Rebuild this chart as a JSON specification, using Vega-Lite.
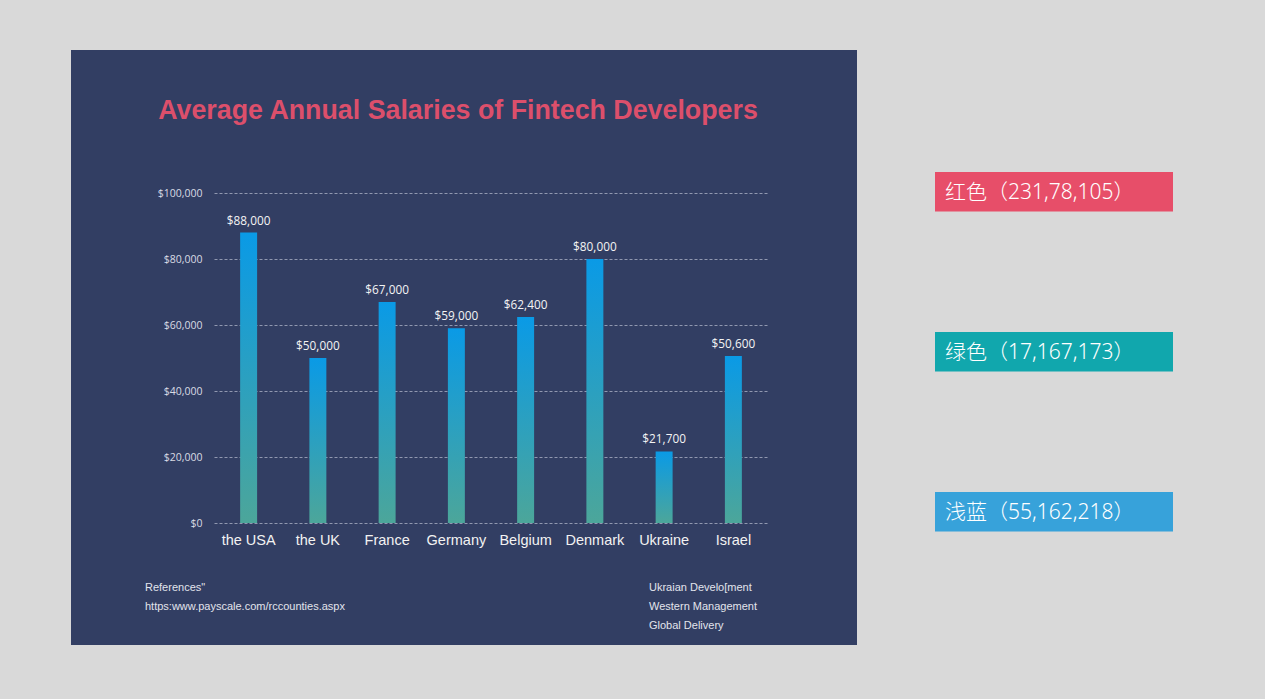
{
  "$schema": "https://vega.github.io/schema/vega-lite/v6.json",
  "background": "#d9d9d9",
  "padding": {"left": 71, "top": 50, "right": 92, "bottom": 54},
  "spacing": 78,
  "config": {"view": {"stroke": null}, "font": "Liberation Sans"},
  "hconcat": [
    {
      "width": 786,
      "height": 595,
      "view": {"fill": "#323e63", "stroke": null},
      "title": {
        "text": "Average Annual Salaries of Fintech Developers",
        "color": "#dc4f6b",
        "font": "Liberation Sans",
        "fontSize": 26.8,
        "fontWeight": "bold",
        "anchor": "middle",
        "offset": -96,
        "baseline": "alphabetic",
        "dx": -6
      },
      "resolve": {"scale": {"x": "independent", "y": "independent"}},
      "layer": [
        {
          "data": {
            "values": [
              {"country": "the USA", "salary": 88000},
              {"country": "the UK", "salary": 50000},
              {"country": "France", "salary": 67000},
              {"country": "Germany", "salary": 59000},
              {"country": "Belgium", "salary": 62400},
              {"country": "Denmark", "salary": 80000},
              {"country": "Ukraine", "salary": 21700},
              {"country": "Israel", "salary": 50600}
            ]
          },
          "encoding": {
            "x": {
              "field": "country",
              "type": "nominal",
              "sort": null,
              "scale": {"range": [143, 697], "paddingInner": 0.755, "paddingOuter": 0.3775},
              "axis": {
                "title": null,
                "orient": "bottom",
                "offset": -122,
                "domain": false,
                "ticks": false,
                "grid": false,
                "labelPadding": 10,
                "labelAngle": 0,
                "labelFont": "Liberation Sans",
                "labelFontSize": 14.5,
                "labelColor": "#f2f2f2"
              }
            },
            "y": {
              "field": "salary",
              "type": "quantitative",
              "scale": {"domain": [0, 100000], "range": [473, 143], "nice": false},
              "axis": {
                "title": null,
                "offset": -143,
                "domain": false,
                "ticks": false,
                "labelPadding": 12,
                "values": [0, 20000, 40000, 60000, 80000, 100000],
                "format": "$,.0f",
                "labelFont": "Open Sans",
                "labelFontSize": 10.5,
                "labelColor": "#d9dbe3",
                "grid": true,
                "gridColor": "#aab0c4",
                "gridDash": [3, 2],
                "gridWidth": 0.8
              }
            }
          },
          "layer": [
            {
              "mark": {
                "type": "bar",
                "color": {
                  "gradient": "linear",
                  "x1": 0, "y1": 0, "x2": 0, "y2": 1,
                  "stops": [
                    {"offset": 0, "color": "#0a9ae6"},
                    {"offset": 1, "color": "#4ca69a"}
                  ]
                }
              }
            },
            {
              "mark": {
                "type": "text",
                "baseline": "bottom",
                "dy": -6,
                "font": "Open Sans",
                "fontSize": 11.8,
                "color": "#f4f4f4"
              },
              "encoding": {"text": {"field": "salary", "type": "quantitative", "format": "$,.0f"}}
            }
          ]
        },
        {
          "data": {
            "values": [
              {"col": 0, "line": 0, "text": "References\""},
              {"col": 0, "line": 1, "text": "https:www.payscale.com/rccounties.aspx"},
              {"col": 1, "line": 0, "text": "Ukraian Develo[ment"},
              {"col": 1, "line": 1, "text": "Western Management"},
              {"col": 1, "line": 2, "text": "Global Delivery"}
            ]
          },
          "mark": {
            "type": "text",
            "align": "left",
            "baseline": "middle",
            "font": "Liberation Sans",
            "fontSize": 11,
            "color": "#e2e4ec"
          },
          "encoding": {
            "x": {"field": "col", "type": "quantitative", "scale": {"domain": [0, 1], "range": [74, 578], "nice": false, "zero": false}, "axis": null},
            "y": {"field": "line", "type": "quantitative", "scale": {"domain": [0, 2], "range": [538, 576], "nice": false, "zero": false}, "axis": null},
            "text": {"field": "text", "type": "nominal"}
          }
        }
      ]
    },
    {
      "width": 238,
      "height": 595,
      "data": {
        "values": [
          {"label": "红色（231,78,105）"},
          {"label": "绿色（17,167,173）"},
          {"label": "浅蓝（55,162,218）"}
        ]
      },
      "encoding": {
        "y": {
          "field": "label",
          "type": "nominal",
          "sort": null,
          "scale": {"range": [122, 481.5], "paddingInner": 0.753, "paddingOuter": 0},
          "axis": null
        }
      },
      "layer": [
        {
          "mark": {"type": "rect"},
          "encoding": {
            "x": {"datum": 0, "type": "quantitative", "scale": {"domain": [0, 1], "nice": false}, "axis": null},
            "x2": {"datum": 1},
            "color": {
              "field": "label",
              "type": "nominal",
              "scale": {
                "domain": ["红色（231,78,105）", "绿色（17,167,173）", "浅蓝（55,162,218）"],
                "range": ["#e74e69", "#11a7ad", "#37a2da"]
              },
              "legend": null
            }
          }
        },
        {
          "mark": {
            "type": "text",
            "align": "left",
            "baseline": "middle",
            "dy": 1.5,
            "font": "Noto Sans, Noto Sans CJK SC",
            "fontSize": 21,
            "fontWeight": 300,
            "color": "#ffffff"
          },
          "encoding": {
            "x": {"datum": 0.042, "type": "quantitative"},
            "text": {"field": "label", "type": "nominal"}
          }
        }
      ]
    }
  ]
}
